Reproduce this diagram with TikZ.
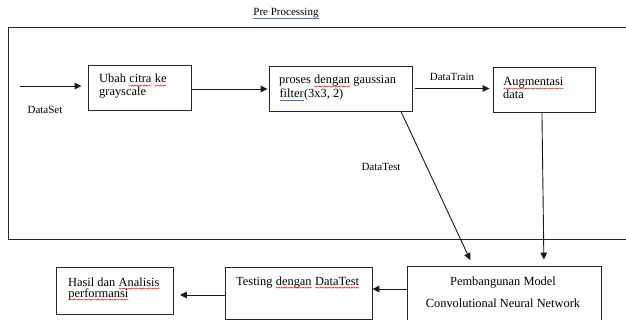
\documentclass[tikz,border=0pt]{standalone}
\usepackage{fontspec}
\setmainfont{Liberation Serif}
\usetikzlibrary{arrows.meta,calc,decorations.pathmorphing}
\definecolor{gramblue}{HTML}{4472C4}
\definecolor{spellred}{HTML}{E02020}
% wavy red underline for flagged spelling, straight blue line for grammar
\newcommand\spellwave[1]{\tikz[baseline=0pt,x=1pt,y=1pt]{\node[inner sep=0pt,outer sep=0pt,anchor=base] (sw) at (0,0) {#1};
  \draw[spellred, line width=0.45pt, decorate, decoration={snake, amplitude=0.6pt, segment length=2.4pt}]
    ([yshift=-2.6pt]sw.base west) -- ([yshift=-2.6pt]sw.base east);}}
\newcommand\grammarline[1]{\tikz[baseline=0pt,x=1pt,y=1pt]{\node[inner sep=0pt,outer sep=0pt,anchor=base] (gl) at (0,0) {#1};
  \draw[gramblue, line width=0.8pt] ([yshift=-2.2pt]gl.base west) -- ([yshift=-2.2pt]gl.base east);}}

\begin{document}
\begin{tikzpicture}[x=1pt,y=-1pt,
  box/.style={draw=black!85, line width=0.9pt, rectangle, inner sep=0pt},
  boxtext/.style={anchor=base west, inner sep=0pt, font=\fontsize{12.4}{14}\selectfont},
  lbl/.style={inner sep=0pt, font=\fontsize{11}{13}\selectfont},
  conn/.style={draw=black!90, line width=0.9pt, -{Triangle[length=7pt,width=6.5pt]}},
]
\useasboundingbox (0,0) rectangle (626,320);
\fill[white] (0,0) rectangle (626,320);

% pre-processing frame
\draw[black!85, line width=0.9pt] (8,27) rectangle (640,239);
\node[lbl, anchor=base] (pre) at (286,16) {\grammarline{Pre Processing}};

% process boxes
\node[box, minimum width=103pt, minimum height=45pt] (ubah) at (139.5,87.5) {};
\node[box, minimum width=143pt, minimum height=45pt] (proses) at (340.5,88.5) {};
\node[box, minimum width=102pt, minimum height=45pt] (aug) at (544,89.5) {};
\node[box, minimum width=194pt, minimum height=58pt] (cnn) at (504,295) {};
\node[box, minimum width=147pt, minimum height=52pt] (test) at (298.5,293) {};
\node[box, minimum width=117pt, minimum height=47pt] (hasil) at (115,290.5) {};

% box texts
\node[boxtext] (t1) at (99,83) {Ubah \spellwave{citra} \spellwave{ke}};
\node[boxtext] (t2) at (99,96) {grayscale};
\node[boxtext] (t3) at (279,84) {proses \spellwave{dengan} gaussian};
\node[boxtext] (t4) at (279,98) {\grammarline{filter}(3x3, 2)};
\node[boxtext] (t5) at (503,86) {\spellwave{Augmentasi}};
\node[boxtext] (t6) at (503,99) {data};
\node[boxtext] (t7) at (68,286) {Hasil dan \spellwave{Analisis}};
\node[boxtext] (t8) at (68,297) {\spellwave{performansi}};
\node[boxtext] (t9) at (236,285) {Testing \spellwave{dengan} \spellwave{DataTest}};
\node[boxtext, anchor=base] (t10) at (503,285) {Pembangunan Model};
\node[boxtext, anchor=base] (t11) at (503,307) {Convolutional Neural Network};

% connector labels
\node[lbl, anchor=base] (dataset) at (45,114) {DataSet};
\node[lbl, anchor=base] (datatrain) at (452,81) {DataTrain};
\node[lbl, anchor=base] (datatest) at (381,171) {DataTest};

% connectors
\coordinate (src) at (20,86);
\draw[conn, shorten >=6pt] (src) -- (src -| ubah.west);
\draw[conn, shorten <=1pt, shorten >=1pt] ([yshift=-1.5pt]ubah.east) -- ([yshift=-1.5pt]ubah.east -| proses.west);
\draw[conn, shorten <=3pt, shorten >=3pt] (proses.east) -- (proses.east -| aug.west);
\draw[conn, shorten >=6pt] ($(proses.south west)!0.92!(proses.south east)$) -- ($(cnn.north west)!0.34!(cnn.north east)$);
\draw[conn, shorten >=6pt] ($(aug.south west)!0.48!(aug.south east)$) -- ($(cnn.north west)!0.705!(cnn.north east)$);
\draw[conn] ([yshift=6pt]cnn.west) -- ([yshift=6pt]cnn.west -| test.east);
\draw[conn, shorten >=6pt] ([yshift=-2pt]test.west) -- ([yshift=-2pt]test.west -| hasil.east);
\end{tikzpicture}
\end{document}
